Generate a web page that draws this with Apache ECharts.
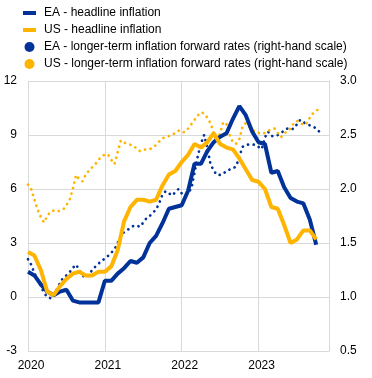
<!DOCTYPE html>
<html><head><meta charset="utf-8">
<script src="https://cdn.jsdelivr.net/npm/echarts@6/dist/echarts.min.js"></script>
<style>html,body{margin:0;padding:0;background:#fff}#c{width:372px;height:378px}</style>
</head><body><div id="c"></div>
<script>
// Monthly index: 0 = Jan 2020
var yearTicks = ['2020', '2021', '2022', '2023'];
var headlineMonths = [0,1,2,3,4,5,6,7,8,9,10,11,12,13,14,15,16,17,18,19,20,21,22,23,24,25,26,27,28,29,30,31,32,33,34,35,36,37,38,39,40,41,42,43,44,45];
var eaHeadline = [1.4,1.2,0.7,0.3,0.1,0.3,0.4,-0.2,-0.3,-0.3,-0.3,-0.3,
  0.9,0.9,1.3,1.6,2.0,1.9,2.2,3.0,3.4,4.1,4.9,5.0,
  5.1,5.9,7.4,7.4,8.1,8.6,8.9,9.1,9.9,10.6,10.1,9.2,
  8.6,8.5,6.9,7.0,6.1,5.5,5.3,5.2,4.3,2.9];
var usHeadline = [2.5,2.3,1.5,0.3,0.1,0.6,1.0,1.3,1.4,1.2,1.2,1.4,
  1.4,1.7,2.6,4.2,5.0,5.4,5.4,5.3,5.4,6.2,6.8,7.0,
  7.5,7.9,8.5,8.3,8.6,9.1,8.5,8.3,8.2,7.7,7.1,6.5,
  6.4,6.0,5.0,4.9,4.0,3.0,3.2,3.7,3.7,3.2];
// Half-monthly observations of forward rates (right-hand scale)
var fwdMonths = [0,0.5,1,1.5,2,2.5,3,3.5,4,4.5,5,5.5,6,6.5,7,7.5,8,8.5,9,9.5,10,10.5,11,11.5,
  12,12.5,13,13.5,14,14.5,15,15.5,16,16.5,17,17.5,18,18.5,19,19.5,20,20.5,21,21.5,22,22.5,23,23.5,
  24,24.5,25,25.5,26,26.5,27,27.5,28,28.5,29,29.5,30,30.5,31,31.5,32,32.5,33,33.5,34,34.5,35,35.5,
  36,36.5,37,37.5,38,38.5,39,39.5,40,40.5,41,41.5,42,42.5,43,43.5,44,44.5,45,45.5];
var eaForward = [1.35,1.30,1.22,1.16,1.10,1.04,1.00,0.99,1.01,1.07,1.13,1.18,1.20,1.23,1.27,1.30,1.25,1.20,1.18,1.20,1.25,1.28,1.31,1.33,
  1.36,1.38,1.41,1.44,1.50,1.57,1.60,1.62,1.64,1.66,1.66,1.65,1.69,1.73,1.75,1.78,1.81,1.87,1.95,1.98,1.96,1.94,1.97,2.00,
  1.96,1.94,1.97,2.00,2.15,2.30,2.42,2.50,2.38,2.23,2.17,2.13,2.13,2.14,2.17,2.18,2.19,2.21,2.30,2.39,2.41,2.41,2.41,2.41,
  2.39,2.37,2.48,2.53,2.49,2.49,2.50,2.52,2.54,2.56,2.55,2.56,2.60,2.64,2.62,2.60,2.59,2.58,2.56,2.53];
var usForward = [2.04,2.00,1.90,1.81,1.74,1.69,1.75,1.79,1.80,1.79,1.80,1.81,1.85,1.90,2.00,2.13,2.09,2.07,2.13,2.17,2.20,2.23,2.27,2.30,
  2.32,2.32,2.27,2.23,2.34,2.45,2.43,2.42,2.41,2.40,2.37,2.35,2.36,2.37,2.37,2.38,2.41,2.44,2.47,2.48,2.49,2.50,2.52,2.54,
  2.52,2.53,2.56,2.60,2.64,2.68,2.71,2.70,2.66,2.61,2.52,2.44,2.52,2.62,2.60,2.50,2.43,2.42,2.46,2.58,2.61,2.58,2.55,2.53,
  2.52,2.51,2.52,2.54,2.55,2.56,2.52,2.48,2.51,2.54,2.56,2.61,2.63,2.62,2.59,2.61,2.66,2.70,2.72,2.75];
var names = ['EA - headline inflation','US - headline inflation',
  'EA - longer-term inflation forward rates (right-hand scale)',
  'US - longer-term inflation forward rates (right-hand scale)'];
var BLUE = '#003299', YELLOW = '#ffb400', GRID = '#d9d9d9';

function pairs(xs, ys){ return ys.map(function(v,i){ return [xs[i], v]; }); }

var chart = echarts.init(document.getElementById('c'), null, {renderer:'canvas'});
var dot = {width:2.7, type:[0.1,5.6], cap:'round'};
chart.setOption({
  animation:false,
  textStyle:{fontFamily:'Liberation Sans, Arial, sans-serif', fontSize:12, color:'#000'},
  legend:{
    orient:'vertical', left:18, top:1, itemGap:3, itemWidth:13, itemHeight:10,
    textStyle:{fontSize:12, color:'#000', lineHeight:14, padding:[0,0,0,3]},
    data:[
      {name:names[0], icon:'path://M0,0 H13 V4 H0 Z'},
      {name:names[1], icon:'path://M0,0 H13 V4 H0 Z'},
      {name:names[2], icon:'circle'},
      {name:names[3], icon:'circle'}
    ]
  },
  grid:{left:28, right:43, top:81, bottom:27},
  xAxis:{
    type:'value', min:0, max:47, interval:12,
    axisLine:{show:true, lineStyle:{color:GRID, width:1}},
    axisTick:{show:false},
    splitLine:{show:true, lineStyle:{color:GRID, width:1}},
    axisLabel:{margin:9, color:'#000', fontSize:12, padding:[0,0,0,6],
      formatter:function(v){ return yearTicks[v/12] || ''; }}
  },
  yAxis:[{
    type:'value', min:-3, max:12, interval:3,
    axisLine:{show:false}, axisTick:{show:false},
    splitLine:{show:true, lineStyle:{color:GRID, width:1}},
    axisLabel:{margin:11, color:'#000', fontSize:12}
  },{
    type:'value', min:0.5, max:3.0, interval:0.5, position:'right',
    axisLine:{show:true, lineStyle:{color:GRID, width:1}}, axisTick:{show:false},
    splitLine:{show:false},
    axisLabel:{margin:11, color:'#000', fontSize:12, formatter:function(v){return v.toFixed(1);}}
  }],
  series:[
    {name:names[2], type:'line', yAxisIndex:1, data:pairs(fwdMonths, eaForward), showSymbol:false,
      color:BLUE, lineStyle:Object.assign({color:BLUE}, dot), z:2},
    {name:names[3], type:'line', yAxisIndex:1, data:pairs(fwdMonths, usForward), showSymbol:false,
      color:YELLOW, lineStyle:Object.assign({color:YELLOW}, dot), z:2},
    {name:names[0], type:'line', data:pairs(headlineMonths, eaHeadline), showSymbol:false,
      color:BLUE, lineStyle:{color:BLUE, width:4}, z:3},
    {name:names[1], type:'line', data:pairs(headlineMonths, usHeadline), showSymbol:false,
      color:YELLOW, lineStyle:{color:YELLOW, width:4}, z:4}
  ]
});
</script></body></html>
